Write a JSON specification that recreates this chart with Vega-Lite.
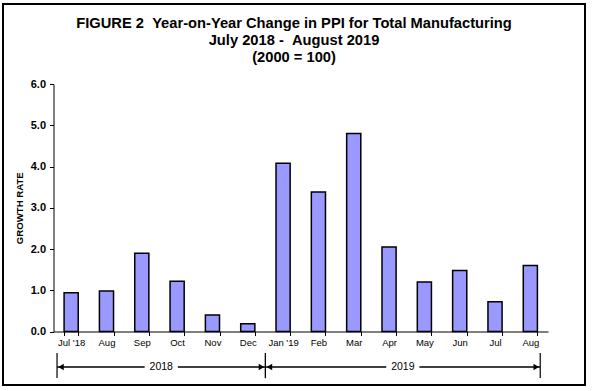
{
  "$schema": "https://vega.github.io/schema/vega-lite/v6.json",
  "width": 582,
  "height": 381,
  "autosize": {"type": "none"},
  "padding": {"left": 3, "top": 4, "right": 7, "bottom": 6},
  "background": "white",
  "config": {
    "view": {"stroke": "black", "strokeWidth": 2},
    "font": "Liberation Sans"
  },
  "title": {
    "text": ["FIGURE 2\u00a0\u00a0Year-on-Year Change in PPI for Total Manufacturing", "July 2018 -\u00a0\u00a0August 2019", "(2000 = 100)"],
    "font": "Liberation Sans",
    "fontSize": 14.7,
    "fontWeight": "bold",
    "lineHeight": 17,
    "anchor": "middle",
    "frame": "group",
    "offset": -61,
    "color": "black"
  },
  "layer": [
    {
      "data": {
        "values": [
          {"month": "Jul '18", "value": 0.94},
          {"month": "Aug '18", "value": 0.98},
          {"month": "Sep '18", "value": 1.90},
          {"month": "Oct '18", "value": 1.22},
          {"month": "Nov '18", "value": 0.40},
          {"month": "Dec '18", "value": 0.19},
          {"month": "Jan '19", "value": 4.08},
          {"month": "Feb '19", "value": 3.38},
          {"month": "Mar '19", "value": 4.80},
          {"month": "Apr '19", "value": 2.05},
          {"month": "May '19", "value": 1.20},
          {"month": "Jun '19", "value": 1.48},
          {"month": "Jul '19", "value": 0.72},
          {"month": "Aug '19", "value": 1.60}
        ]
      },
      "mark": {"type": "bar", "fill": "#9999FF", "stroke": "black", "strokeWidth": 1.5},
      "encoding": {
        "x": {
          "field": "month",
          "type": "nominal",
          "sort": null,
          "scale": {"range": [50.5, 545], "paddingInner": 0.6, "paddingOuter": 0.3},
          "axis": {
            "title": null,
            "labelAngle": 0,
            "offset": -53.5,
            "tickBand": "extent",
            "domainColor": "black",
            "domainWidth": 1,
            "tickColor": "black",
            "tickSize": 4,
            "labelPadding": 2,
            "labelFont": "Liberation Sans",
            "labelFontSize": 9.5,
            "labelColor": "black",
            "labelExpr": "!isString(datum.value) ? '' : ((datum.value == \"Jul '18\" || datum.value == \"Jan '19\") ? datum.value : substring(datum.value, 0, 3))"
          }
        },
        "y": {
          "field": "value",
          "type": "quantitative",
          "scale": {"domain": [0, 6], "range": [327.5, 80], "nice": false, "zero": false},
          "axis": {
            "title": "GROWTH RATE",
            "values": [0, 1, 2, 3, 4, 5, 6],
            "format": ".1f",
            "grid": false,
            "offset": -50.5,
            "domainColor": "black",
            "domainWidth": 1,
            "tickColor": "black",
            "tickSize": 4,
            "labelPadding": 4,
            "labelFont": "Liberation Sans",
            "labelFontSize": 11,
            "labelFontWeight": "bold",
            "labelColor": "black",
            "titleFont": "Liberation Sans",
            "titleFontSize": 9.6,
            "titleFontWeight": "bold",
            "titleColor": "black",
            "titlePadding": 6
          }
        }
      }
    },
    {
      "data": {
        "values": [
          {"year": "2018", "start": 0.1, "end": 6.0},
          {"year": "2019", "start": 6.0, "end": 13.78}
        ]
      },
      "transform": [{"calculate": "(datum.start + datum.end) / 2", "as": "mid"}],
      "layer": [
        {
          "mark": {"type": "rule", "color": "black", "strokeWidth": 1.5},
          "encoding": {
            "x": {"field": "start", "type": "quantitative", "scale": {"domain": [0, 14], "range": [50.5, 545], "nice": false, "zero": false}, "axis": null},
            "x2": {"field": "end"},
            "y": {"datum": -0.86}
          }
        },
        {
          "mark": {"type": "rule", "color": "black", "strokeWidth": 1.2},
          "encoding": {
            "x": {"field": "start", "type": "quantitative", "axis": null},
            "y": {"datum": -0.52},
            "y2": {"datum": -1.13}
          }
        },
        {
          "mark": {"type": "rule", "color": "black", "strokeWidth": 1.2},
          "encoding": {
            "x": {"field": "end", "type": "quantitative", "axis": null},
            "y": {"datum": -0.52},
            "y2": {"datum": -1.13}
          }
        },
        {
          "mark": {"type": "point", "shape": "triangle-left", "filled": true, "color": "black", "size": 40, "opacity": 1, "xOffset": 4},
          "encoding": {
            "x": {"field": "start", "type": "quantitative", "axis": null},
            "y": {"datum": -0.86}
          }
        },
        {
          "mark": {"type": "point", "shape": "triangle-right", "filled": true, "color": "black", "size": 40, "opacity": 1, "xOffset": -4},
          "encoding": {
            "x": {"field": "end", "type": "quantitative", "axis": null},
            "y": {"datum": -0.86}
          }
        },
        {
          "mark": {"type": "point", "shape": "M-1,-0.25L1,-0.25L1,0.25L-1,0.25Z", "filled": true, "color": "white", "size": 1100, "opacity": 1},
          "encoding": {
            "x": {"field": "mid", "type": "quantitative", "axis": null},
            "y": {"datum": -0.86}
          }
        },
        {
          "mark": {"type": "text", "font": "Liberation Sans", "fontSize": 10.5, "color": "black", "baseline": "middle", "align": "center"},
          "encoding": {
            "x": {"field": "mid", "type": "quantitative", "axis": null},
            "y": {"datum": -0.86},
            "text": {"field": "year"}
          }
        }
      ]
    }
  ],
  "resolve": {"scale": {"x": "independent"}}
}
